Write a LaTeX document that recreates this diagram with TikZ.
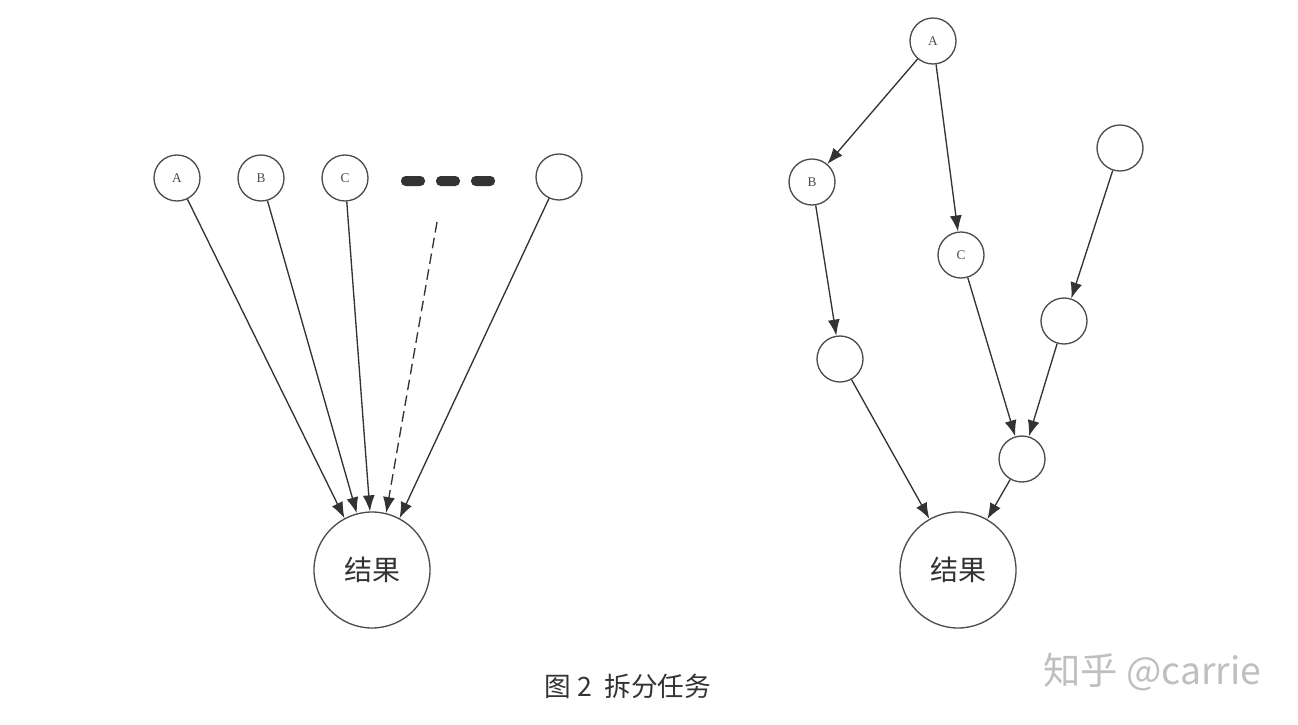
\documentclass[tikz,border=0pt]{standalone}
\usepackage{fontspec}
\newfontfamily\cjk{Noto Sans CJK SC}
\setmainfont{Liberation Serif}
\usetikzlibrary{arrows.meta}
\begin{document}
\begin{tikzpicture}[x=0.75pt,y=-0.75pt,
  sn/.style={circle,draw=black!70,line width=1pt,minimum size=34.5pt,inner sep=0pt,font=\fontsize{10}{10}\selectfont\color{black!70}},
  bn/.style={circle,draw=black!70,line width=1pt,minimum size=87pt,inner sep=0pt,font=\cjk\fontsize{21}{21}\selectfont\color{black!80}},
  ar/.style={draw=black!80,line width=1pt,-{Latex[length=12pt,width=9pt]}},
  bar/.style={fill=black!80,rounded corners=3.5pt,minimum width=18pt,minimum height=7.5pt,inner sep=0pt}]
\useasboundingbox (0,0) rectangle (1298,724);
% left
\node[sn] (lA) at (177,178) {A};
\node[sn] (lB) at (261,178) {B};
\node[sn] (lC) at (345,178) {C};
\node[bar] (d1) at (413,181) {};
\node[bar] (d2) at (448,181) {};
\node[bar] (d3) at (483,181) {};
\node[sn] (lE) at (559,177) {};
\node[bn] (lR) at (372,570) {结果};
\coordinate (ds) at (437,222);
\draw[ar] (lA) -- (lR.118);
\draw[ar] (lB) -- (lR.105);
\draw[ar] (lC) -- (lR.92);
\draw[ar,dashed,dash pattern=on 8pt off 4pt] (ds) -- (lR.76);
\draw[ar] (lE) -- (lR.62);
% right
\node[sn] (rA) at (933,41) {A};
\node[sn] (rB) at (812,182) {B};
\node[sn] (rC) at (961,255) {C};
\node[sn] (rT) at (1120,148) {};
\node[sn] (rM) at (1064,321) {};
\node[sn] (rL) at (840,359) {};
\node[sn] (rS) at (1022,459) {};
\node[bn] (rR) at (958,570) {结果};
\draw[ar] (rA) -- (rB);
\draw[ar] (rA) -- (rC);
\draw[ar] (rB) -- (rL);
\draw[ar] (rC) -- (rS);
\draw[ar] (rT) -- (rM);
\draw[ar] (rM) -- (rS);
\draw[ar] (rL) -- (rR);
\draw[ar] (rS) -- (rR);
% caption
\node[font=\cjk\fontsize{20}{20}\selectfont,text=black!80] (cap) at (628,686) {图 2\ \ 拆分任务};
\node[font=\cjk\fontsize{28}{28}\selectfont,text=black!25] (wm) at (1152,672) {知乎 @carrie};
\end{tikzpicture}
\end{document}
